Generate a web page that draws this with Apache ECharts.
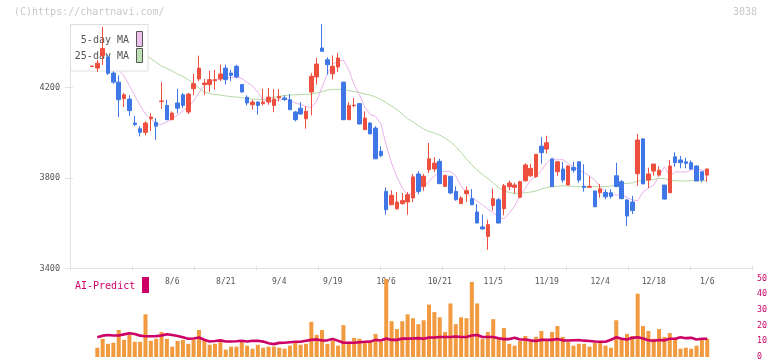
<!DOCTYPE html>
<html><head><meta charset="utf-8">
<script src="https://cdn.jsdelivr.net/npm/echarts@6/dist/echarts.min.js"></script>
<style>html,body{margin:0;padding:0;background:#fff}#c{width:772px;height:361px}</style>
</head><body><div id="c"></div>
<script>
const dates = ['7/15','7/16','7/17','7/18','7/22','7/23','7/24','7/25','7/28','7/29','7/30','7/31',
'8/1','8/4','8/5','8/6','8/7','8/8','8/12','8/13','8/14','8/15','8/18','8/19','8/20','8/21','8/22','8/25','8/26','8/27','8/28','8/29',
'9/1','9/2','9/3','9/4','9/5','9/8','9/9','9/10','9/11','9/12','9/16','9/17','9/18','9/19','9/22','9/24','9/25','9/26','9/29','9/30',
'10/1','10/2','10/3','10/6','10/7','10/8','10/9','10/10','10/14','10/15','10/16','10/17','10/20','10/21','10/22','10/23','10/24','10/27','10/28','10/29','10/30','10/31',
'11/4','11/5','11/6','11/7','11/10','11/11','11/12','11/13','11/14','11/17','11/18','11/19','11/20','11/21','11/25','11/26','11/27','11/28',
'12/1','12/2','12/3','12/4','12/5','12/8','12/9','12/10','12/11','12/12','12/15','12/16','12/17','12/18','12/19','12/22','12/23','12/24','12/25','12/26','12/29','12/30',
'1/5','1/6'];
const tickLabels = ['8/6','8/21','9/4','9/19','10/6','10/21','11/5','11/19','12/4','12/18','1/6'];
const priceTicks = [3400, 3800, 4200];
const volTicks = [0, 10, 20, 30, 40, 50];
const opens = [4292,4285,4340,4334,4263,4223,4150,4148,4042,4017,
4001,4061,4045,4137,4120,4057,4131,4167,4091,4194,
4237,4212,4212,4229,4237,4285,4263,4293,4212,4156,
4123,4135,4128,4135,4120,4153,4153,4145,4091,4108,
4061,4179,4246,4374,4322,4260,4290,4223,4057,4119,
4128,4013,4042,4020,3917,3740,3681,3663,3686,3693,
3711,3817,3762,3836,3839,3873,3762,3807,3740,3686,
3730,3708,3649,3583,3541,3678,3703,3663,3761,3758,
3714,3787,3809,3805,3940,3927,3883,3827,3839,3768,
3846,3871,3763,3758,3742,3734,3735,3734,3809,3783,
3702,3693,3818,3972,3790,3830,3812,3768,3734,3893,
3879,3871,3867,3852,3827,3812];
const closes = [4294,4307,4372,4262,4223,4145,4167,4097,4036,4001,
4042,4069,4028,4140,4057,4086,4108,4120,4170,4216,
4285,4219,4234,4234,4259,4234,4253,4246,4179,4131,
4135,4120,4135,4157,4148,4160,4146,4101,4057,4082,
4094,4249,4303,4359,4300,4293,4330,4057,4120,4121,
4038,4064,3994,3884,3898,3659,3723,3693,3699,3725,
3804,3740,3807,3884,3865,3774,3811,3733,3703,3711,
3743,3681,3600,3574,3593,3708,3600,3765,3777,3768,
3783,3857,3842,3904,3911,3955,3761,3871,3790,3852,
3834,3790,3757,3762,3672,3751,3716,3718,3761,3708,
3631,3655,3967,3773,3817,3861,3834,3706,3852,3867,
3867,3864,3839,3786,3790,3839];
const lows = [4291,4268,4299,4255,4216,4069,4113,4074,4028,3983,
3988,4008,3968,4105,4055,4055,4086,4108,4082,4165,
4227,4165,4179,4189,4227,4212,4227,4240,4179,4120,
4101,4079,4120,4123,4090,4138,4140,4101,4050,4079,
4017,4076,4212,4359,4256,4234,4268,4055,4057,4112,
4036,4013,3994,3884,3891,3637,3679,3659,3681,3637,
3693,3727,3743,3821,3826,3774,3762,3728,3699,3686,
3693,3679,3600,3571,3482,3655,3600,3634,3745,3730,
3710,3783,3804,3800,3862,3908,3760,3809,3778,3768,
3823,3778,3739,3757,3672,3712,3705,3708,3760,3705,
3587,3640,3765,3773,3755,3810,3806,3704,3734,3849,
3842,3842,3835,3786,3780,3783];
const highs = [4295,4322,4467,4345,4271,4253,4175,4165,4074,4028,
4050,4086,4064,4223,4145,4093,4194,4175,4175,4259,
4340,4237,4273,4278,4300,4300,4278,4300,4215,4165,
4145,4138,4194,4197,4192,4192,4165,4170,4095,4135,
4116,4263,4330,4480,4333,4341,4352,4225,4135,4153,
4131,4094,4046,4028,3939,3758,3745,3737,3733,3737,
3817,3830,3817,3954,3891,3884,3811,3807,3762,3719,
3762,3750,3684,3637,3615,3752,3711,3773,3788,3778,
3787,3864,3862,3904,3981,3986,3885,3871,3871,3855,
3871,3871,3860,3806,3742,3773,3749,3749,3867,3790,
3707,3720,3994,3976,3845,3861,3850,3768,3879,3913,
3896,3889,3876,3855,3827,3839];
const ma5 = [4300,4305,4315,4310,4294,4276,4250,4208,4164,4120,
4082,4060,4038,4036,4047,4060,4078,4096,4115,4139,
4177,4210,4226,4232,4237,4241,4244,4244,4239,4223,
4206,4177,4145,4138,4140,4144,4147,4144,4131,4124,
4115,4111,4139,4201,4259,4303,4316,4321,4277,4212,
4166,4113,4080,4072,4038,3945,3865,3804,3755,3725,
3733,3739,3759,3785,3808,3826,3829,3828,3808,3764,
3733,3713,3697,3680,3662,3644,3629,3618,3644,3675,
3720,3755,3790,3808,3833,3865,3889,3879,3881,3863,
3849,3836,3823,3808,3790,3759,3737,3726,3724,3724,
3713,3702,3699,3737,3754,3768,3808,3849,3808,3826,
3826,3826,3835,3839,3835,3826];
const ma25 = [4370,4372,4374,4374,4372,4370,4368,4365,4360,4353,
4343,4327,4310,4294,4283,4272,4259,4248,4234,4217,
4197,4179,4173,4168,4166,4162,4159,4157,4154,4151,
4148,4147,4147,4150,4156,4160,4164,4166,4167,4168,
4169,4170,4175,4181,4188,4191,4191,4190,4186,4181,
4177,4171,4166,4157,4146,4133,4117,4101,4082,4061,
4048,4030,4016,4005,3998,3989,3976,3960,3938,3912,
3883,3857,3834,3815,3797,3777,3757,3742,3735,3731,
3733,3734,3737,3742,3750,3757,3761,3763,3765,3764,
3762,3761,3761,3761,3761,3761,3761,3764,3766,3773,
3776,3777,3786,3788,3790,3793,3797,3797,3790,3787,
3786,3786,3787,3787,3787,3787];
const volume = [null,5.9,11.6,8.4,9.1,17.2,10.9,14.1,9.7,9.7,
27.2,10.3,11.6,15.9,11.6,6.6,10.3,10.9,8.4,10.9,
17.2,10.9,7.8,8.4,9.7,4.7,6.6,6.6,9.7,7.2,
5.3,7.8,5.9,6.6,6.6,5.9,5.3,7.2,9.1,7.8,
8.4,22.4,14.1,17.2,8.4,10.3,7.2,20.3,9.7,12.2,
11.6,9.7,9.7,14.7,9.7,49.7,22.8,17.8,22.8,27.2,
24.7,20.9,23.4,33.4,28.6,25.3,15.9,34.1,20.9,25.3,
24.7,47.8,34.1,11.6,15.9,24.1,12.2,18.4,8.4,7.2,
10.1,13.4,10.1,12.8,16.6,10.1,15.9,19.7,12.8,9.5,
7.2,8.4,8.4,6.6,8.9,8.9,7.2,5.9,23.4,11.6,
14.7,13.4,40.3,19.7,16.6,11.6,17.8,12.8,15.3,11.6,
5.3,5.9,5.3,7.2,10.9,11.6];
const aiPredict = [null,12.6,13.6,14.0,13.7,13.7,14.4,15.1,14.7,13.6,
13.2,13.2,13.3,13.7,14.5,14.0,13.4,12.6,11.6,11.8,
12.4,11.0,9.9,10.2,10.6,9.9,9.9,10.0,10.3,9.9,
10.3,10.3,9.8,8.8,8.2,9.0,9.1,9.4,9.7,9.7,
10.3,10.9,11.2,10.5,10.6,11.4,10.4,9.1,9.1,9.1,
9.4,9.7,9.8,10.9,10.5,11.8,10.9,10.9,11.7,11.7,
11.8,12.0,11.6,12.4,12.4,12.7,12.7,12.7,13.1,12.7,
12.7,13.7,14.0,12.7,12.7,12.7,12.0,11.4,11.4,12.3,
11.1,11.1,10.6,10.2,10.9,10.9,10.9,11.5,10.6,10.5,
10.7,10.8,10.4,10.2,9.9,9.7,9.7,11.0,12.6,11.6,
11.1,12.2,12.6,11.8,10.7,10.4,10.8,10.6,11.6,11.6,
12.6,12.0,12.2,11.1,11.6,11.6];

// layout: 4 empty slots before, 8 after
const PADL = 4, PADR = 8;
const pad = (n, v) => Array.from({length: n}, () => v);
const cats = pad(PADL, '').concat(dates, pad(PADR, ''));
const ext = arr => pad(PADL, '-').concat(arr.map(v => v === null ? '-' : v), pad(PADR, '-'));
const ohlc = dates.map((d, i) => [opens[i], closes[i], lows[i], highs[i]]);
const labelSet = new Set(tickLabels);

const MONO = '"DejaVu Sans Mono", monospace';
const RED = '#ef4f3f', BLUE = '#3f78e6', MAG = '#cc0066';
const AX = '#e2e2e2';

const chart = echarts.init(document.getElementById('c'), null, {renderer: 'canvas'});
chart.setOption({
  animation: false,
  backgroundColor: '#fff',
  grid: [
    {left: 70, right: 20, top: 24, bottom: 92.7},
    {left: 67.9, right: 19.3, top: 24, bottom: 92.7},
    {left: 67.9, right: 19.3, top: 278.5, bottom: 2.5}
  ],
  xAxis: [
    {type: 'value', gridIndex: 0, position: 'bottom', min: 0, max: 11, interval: 1,
     axisLine: {show: true, lineStyle: {color: AX}}, axisTick: {show: true, inside: true, length: 3, lineStyle: {color: AX}},
     axisLabel: {show: false}, splitLine: {show: false}},
    {type: 'value', gridIndex: 0, position: 'bottom', min: 0, max: 11, interval: 1,
     axisLine: {show: false}, axisTick: {show: true, inside: false, length: 2, lineStyle: {color: AX}},
     axisLabel: {show: false}, splitLine: {show: false}},
    {type: 'category', gridIndex: 1, position: 'bottom', data: cats, boundaryGap: true,
     axisLine: {show: false}, axisTick: {show: false}, splitLine: {show: false},
     axisLabel: {show: true, interval: (i, v) => labelSet.has(v), margin: 10, color: '#555', fontSize: 8, fontFamily: MONO}},
    {type: 'category', gridIndex: 2, position: 'bottom', data: cats, boundaryGap: true, show: false}
  ],
  yAxis: [
    {type: 'value', gridIndex: 0, position: 'left', min: 3400, max: 4480,
     axisLine: {show: true, lineStyle: {color: AX}},
     axisTick: {show: true, inside: false, length: 5, lineStyle: {color: AX}, customValues: priceTicks},
     axisLabel: {show: true, margin: 10, color: '#555', fontSize: 8.5, fontFamily: MONO, customValues: priceTicks,
                 formatter: v => String(v)},
     splitLine: {show: false}},
    {type: 'value', gridIndex: 0, position: 'left', min: 3400, max: 4480,
     axisLine: {show: false},
     axisTick: {show: true, inside: true, length: 3, lineStyle: {color: AX}, customValues: priceTicks},
     axisLabel: {show: false}, splitLine: {show: false}},
    {type: 'value', gridIndex: 1, min: 3400, max: 4480, show: false, splitLine: {show: false}},
    {type: 'value', gridIndex: 2, min: 0, max: 50, interval: 10, position: 'right',
     axisLine: {show: false}, axisTick: {show: false}, splitLine: {show: false},
     axisLabel: {show: true, margin: 4.3, color: MAG, fontSize: 8.3, fontFamily: MONO}}
  ],
  series: [
    {type: 'line', name: '25-day MA', xAxisIndex: 2, yAxisIndex: 2, data: ext(ma25), z: 1,
     showSymbol: false, symbol: 'none', lineStyle: {color: '#b2daa2', width: 1}},
    {type: 'line', name: '5-day MA', xAxisIndex: 2, yAxisIndex: 2, data: ext(ma5), z: 1,
     showSymbol: false, symbol: 'none', lineStyle: {color: '#e9b2ea', width: 1}},
    {type: 'candlestick', xAxisIndex: 2, yAxisIndex: 2, data: pad(PADL, '-').concat(ohlc, pad(PADR, '-')), z: 3,
     barWidth: 4,
     itemStyle: {color: RED, color0: BLUE, borderColor: RED, borderColor0: BLUE, borderColorDoji: RED, borderWidth: 1}},
    {type: 'bar', xAxisIndex: 3, yAxisIndex: 3, data: ext(volume), barWidth: 4, z: 2,
     itemStyle: {color: '#f29a3f'}},
    {type: 'line', xAxisIndex: 3, yAxisIndex: 3, data: ext(aiPredict), z: 3,
     showSymbol: false, symbol: 'none', lineStyle: {color: MAG, width: 2.6}}
  ],
  graphic: {elements: [
    {type: 'text', x: 14, y: 12, z: 10, style: {text: '(C)https://chartnavi.com/', fill: '#c8c8c8', font: '10px ' + MONO, textVerticalAlign: 'middle'}},
    {type: 'text', x: 757, y: 12, z: 10, style: {text: '3038', fill: '#c8c8c8', font: '10px ' + MONO, textAlign: 'right', textVerticalAlign: 'middle'}},
    {type: 'rect', z: 2, shape: {x: 70.5, y: 24.5, width: 77.5, height: 46.5}, style: {fill: '#fff', stroke: '#dedede', lineWidth: 1}},
    {type: 'text', x: 129, y: 40.5, z: 2, style: {text: '5-day MA', fill: '#555', font: '10px ' + MONO, textAlign: 'right', textVerticalAlign: 'middle'}},
    {type: 'text', x: 129, y: 56.5, z: 2, style: {text: '25-day MA', fill: '#555', font: '10px ' + MONO, textAlign: 'right', textVerticalAlign: 'middle'}},
    {type: 'rect', z: 2, shape: {x: 136.5, y: 31.5, width: 6, height: 15}, style: {fill: '#eec0ee', stroke: '#555', lineWidth: 1}},
    {type: 'rect', z: 2, shape: {x: 136.5, y: 48.5, width: 6, height: 14}, style: {fill: '#bfe0b2', stroke: '#555', lineWidth: 1}},
    {type: 'text', x: 75, y: 286, z: 10, style: {text: 'AI-Predict', fill: MAG, font: '10px ' + MONO, textVerticalAlign: 'middle'}},
    {type: 'rect', z: 10, shape: {x: 142, y: 277, width: 7, height: 16}, style: {fill: MAG}}
  ]}
});
</script>
</body></html>
